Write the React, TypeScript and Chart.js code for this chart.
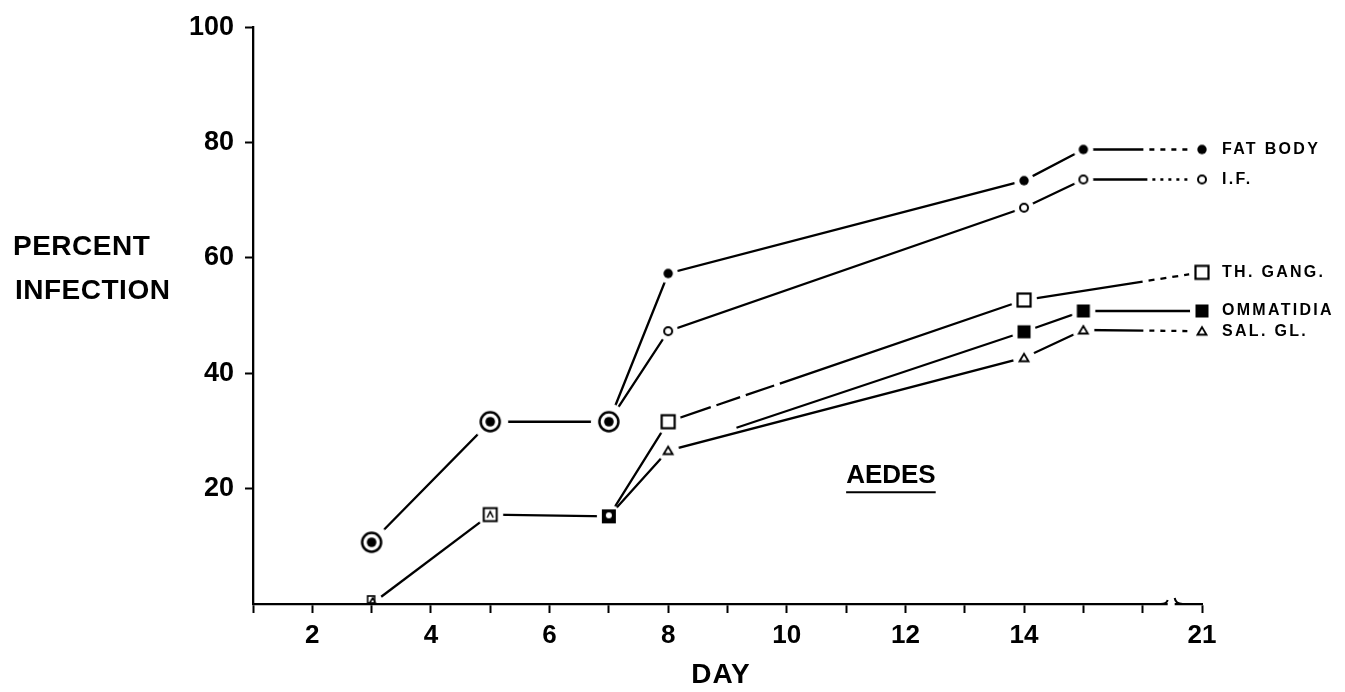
import React, { useEffect, useRef } from 'react';
import { Chart, registerables } from 'chart.js';

Chart.register(...registerables);

// ---- data ----
const DAYS = [3, 5, 7, 8, 14, 15, 21];
const X_TICK_DAYS = [2, 4, 6, 8, 10, 12, 14, 21];
const Y_TICK_VALUES = [20, 40, 60, 80, 100];
const FAT_BODY = [10.7, 31.6, 31.6, 57.3, 73.4, 78.8, 78.8];
const INF_FLUID = [10.7, 31.6, 31.6, 47.3, 68.7, 73.6, 73.6];
const TH_GANG = [0, 15.5, 15.2, 31.6, 52.7, null, 57.5];
const OMMATIDIA = [0, 15.5, 15.2, 26.6, 47.2, 50.8, 50.8];
const SAL_GL = [0, 15.5, 15.2, 26.6, 42.7, 47.5, 47.3];
const SERIES_LABELS = ['FAT BODY', 'I.F.', 'TH. GANG.', 'OMMATIDIA', 'SAL. GL.'];
const Y_TITLE = ['PERCENT', 'INFECTION'];
const X_TITLE = 'DAY';
const PANEL_LABEL = 'AEDES';

// broken day axis: days 17..20 are cut out, 21 sits one unit after 16
const BREAK_AFTER = 16;
const BREAK_DAY = 21;
const toPos = (d: number) => (d > BREAK_AFTER ? BREAK_AFTER + (d - BREAK_DAY) + 1 : d);
const fromPos = (p: number) => (p > BREAK_AFTER ? BREAK_DAY + p - BREAK_AFTER - 1 : p);

const FONT = '"Liberation Sans", Arial, sans-serif';

const pts = (arr: (number | null)[]) => DAYS.map((d, i) => ({ x: toPos(d), y: arr[i] }));

function mk(halo: number, draw: (g: CanvasRenderingContext2D) => void) {
  const s = Math.ceil(Math.max(halo, 10) * 2) + 2;
  const c = document.createElement('canvas');
  c.width = s;
  c.height = s;
  const g = c.getContext('2d')!;
  g.translate(s / 2, s / 2);
  if (halo > 0) {
    g.fillStyle = '#fff';
    g.beginPath();
    g.arc(0, 0, halo, 0, Math.PI * 2);
    g.fill();
  }
  g.strokeStyle = '#000';
  g.fillStyle = '#000';
  draw(g);
  return c;
}

function makeMarkers() {
  const dot = mk(10, (g) => { g.beginPath(); g.arc(0, 0, 4.7, 0, Math.PI * 2); g.fill(); });
  const ring = mk(10, (g) => { g.lineWidth = 2; g.beginPath(); g.arc(0, 0, 4, 0, Math.PI * 2); g.stroke(); });
  const bigRing = mk(18, (g) => {
    g.lineWidth = 2.5; g.beginPath(); g.arc(0, 0, 9.5, 0, Math.PI * 2); g.stroke();
    g.beginPath(); g.arc(0, 0, 4.8, 0, Math.PI * 2); g.fill();
  });
  const openSq = mk(13, (g) => { g.lineWidth = 2.2; g.strokeRect(-6.5, -6.5, 13, 13); });
  const filledSq = mk(12, (g) => { g.fillRect(-6.5, -6.5, 13, 13); });
  const tri = mk(11, (g) => {
    g.lineWidth = 1.8; g.beginPath(); g.moveTo(-4.5, 3.5); g.lineTo(0, -4); g.lineTo(4.5, 3.5); g.closePath(); g.stroke();
  });
  const day3 = mk(0, (g) => {
    g.lineWidth = 1.6; g.strokeRect(-4, -8, 7, 7);
    g.beginPath(); g.moveTo(-2, -1); g.lineTo(1, -6); g.lineTo(4, -1); g.stroke();
  });
  const day5 = mk(13, (g) => {
    g.lineWidth = 2; g.strokeRect(-6.5, -6.5, 13, 13);
    g.lineWidth = 1.5; g.beginPath(); g.moveTo(-3, 3); g.lineTo(0, -3); g.lineTo(3, 3); g.stroke();
  });
  const day7 = mk(12, (g) => {
    g.fillRect(-7, -7, 14, 14);
    g.fillStyle = '#fff'; g.beginPath(); g.arc(0, -1, 3, 0, Math.PI * 2); g.fill();
  });
  return { dot, ring, bigRing, openSq, filledSq, tri, day3, day5, day7 };
}

const TRANSPARENT = 'rgba(0,0,0,0)';

function lineDs(label: string, arr: (number | null)[], dashes: Record<number, number[]>, hidden: number[]) {
  return {
    label,
    data: pts(arr),
    showLine: true,
    pointRadius: 0,
    borderColor: '#000',
    borderWidth: 2.3,
    spanGaps: true,
    order: 1,
    clip: false,
    segment: {
      borderDash: (c: any) => dashes[c.p0DataIndex],
      borderColor: (c: any) => (hidden.includes(c.p0DataIndex) ? TRANSPARENT : undefined),
    },
  };
}

function markerDs(label: string, arr: (number | null)[], styles: any[], radii: number[]) {
  return {
    label: label + ' markers',
    data: pts(arr),
    showLine: false,
    pointStyle: styles,
    pointRadius: radii,
    pointBorderWidth: 0,
    order: 0,
    clip: false,
  };
}

const annotPlugin = {
  id: 'annot',
  afterDraw(chart: any) {
    const { ctx } = chart;
    const x = chart.scales.x;
    const y = chart.scales.y;
    ctx.save();

    // axis break near 21
    const x16 = x.getPixelForValue(BREAK_AFTER);
    const yb = y.getPixelForValue(0);
    ctx.fillStyle = '#fff';
    ctx.fillRect(x16 + 25, yb - 5, 7, 8);
    ctx.strokeStyle = '#000';
    ctx.lineWidth = 2;
    ctx.beginPath();
    ctx.moveTo(x16 + 18, yb);
    ctx.quadraticCurveTo(x16 + 24, yb, x16 + 25, yb - 4);
    ctx.stroke();
    ctx.beginPath();
    ctx.moveTo(x16 + 32, yb - 6);
    ctx.quadraticCurveTo(x16 + 33, yb, x16 + 40, yb);
    ctx.stroke();

    ctx.fillStyle = '#000';
    ctx.textBaseline = 'middle';

    // series labels at the right
    ctx.font = `bold 16px ${FONT}`;
    ctx.letterSpacing = '2.3px';
    ctx.textAlign = 'left';
    const last = DAYS.length - 1;
    const lx = x.getPixelForValue(toPos(DAYS[last])) + 20;
    [FAT_BODY, INF_FLUID, TH_GANG, OMMATIDIA, SAL_GL].forEach((arr, i) => {
      ctx.fillText(SERIES_LABELS[i], lx, y.getPixelForValue(arr[last] as number));
    });

    // y title
    ctx.font = `bold 28px ${FONT}`;
    ctx.letterSpacing = '0.5px';
    ctx.fillText(Y_TITLE[0], 13, 247);
    ctx.fillText(Y_TITLE[1], 15, 291);

    // x title
    ctx.textAlign = 'center';
    ctx.letterSpacing = '1px';
    ctx.fillText(X_TITLE, 721, 675);

    // panel label
    ctx.font = `bold 26px ${FONT}`;
    ctx.letterSpacing = '0px';
    ctx.textAlign = 'left';
    const ax = x.getPixelForValue(11.0);
    const ay = y.getPixelForValue(22.3);
    ctx.fillText(PANEL_LABEL, ax, ay);
    const w = ctx.measureText(PANEL_LABEL).width;
    ctx.lineWidth = 2;
    ctx.beginPath();
    ctx.moveTo(ax, ay + 17);
    ctx.lineTo(ax + w, ay + 17);
    ctx.stroke();

    ctx.restore();
  },
};

export default function App() {
  const ref = useRef<HTMLCanvasElement>(null);
  useEffect(() => {
    const m = makeMarkers();
    const endDash = [60, 6, 5, 6, 5, 6, 5, 6, 5, 6, 5, 500];
    const dotDash = [64, 5, 3, 5, 3, 5, 3, 5, 3, 5, 3, 500];
    const thEnd = [120, 6, 6, 6, 6, 6, 6, 6, 6, 500];
    const datasets: any[] = [
      markerDs('FAT BODY', FAT_BODY, DAYS.map(() => m.dot), [0, 0, 0, 5, 5, 5, 5]),
      markerDs('I.F.', INF_FLUID, [m.bigRing, m.bigRing, m.bigRing, m.ring, m.ring, m.ring, m.ring], [5, 5, 5, 5, 5, 5, 5]),
      markerDs('TH. GANG.', TH_GANG, [m.day3, m.day5, m.day7, m.openSq, m.openSq, m.openSq, m.openSq], [5, 5, 5, 5, 5, 0, 5]),
      markerDs('OMMATIDIA', OMMATIDIA, DAYS.map(() => m.filledSq), [0, 0, 0, 0, 5, 5, 5]),
      markerDs('SAL. GL.', SAL_GL, DAYS.map(() => m.tri), [0, 0, 0, 5, 5, 5, 5]),
      lineDs('FAT BODY', FAT_BODY, { 5: endDash }, []),
      lineDs('I.F.', INF_FLUID, { 5: dotDash }, [0, 1]),
      lineDs('TH. GANG.', TH_GANG, { 0: [0, 12, 2000], 3: [45, 6, 25, 6, 30, 6, 2000], 4: thEnd, 5: thEnd }, []),
      lineDs('OMMATIDIA', OMMATIDIA, { 3: [0, 72, 2000] }, [0, 1, 2]),
      lineDs('SAL. GL.', SAL_GL, { 5: endDash }, [0, 1]),
    ];
    const tickFont = { family: FONT, weight: 'bold' as const, size: 26 };
    const chart = new Chart(ref.current!, {
      type: 'line',
      data: { datasets },
      options: {
        animation: false,
        responsive: false,
        layout: { padding: { top: 25, right: 143, bottom: 0, left: 0 } },
        plugins: { legend: { display: false }, tooltip: { enabled: false } },
        scales: {
          x: {
            type: 'linear',
            min: 1,
            max: toPos(BREAK_DAY),
            afterFit: (s: any) => { s.height = 88; },
            ticks: {
              stepSize: 1,
              autoSkip: false,
              maxRotation: 0,
              color: '#000',
              padding: 7,
              font: tickFont,
              callback: (v: any) => {
                const d = fromPos(Number(v));
                return X_TICK_DAYS.includes(d) ? String(d) : '';
              },
            },
            grid: { drawOnChartArea: false, drawTicks: true, tickLength: 9, tickWidth: 2, tickColor: '#000' },
            border: { display: true, color: '#000', width: 2.3 },
          },
          y: {
            min: 0,
            max: 100,
            afterFit: (s: any) => { s.width = 253; },
            ticks: {
              stepSize: 20,
              color: '#000',
              padding: 11,
              font: { ...tickFont, size: 27 },
              callback: (v: any) => (Y_TICK_VALUES.includes(Number(v)) ? String(v) : ''),
            },
            grid: {
              drawOnChartArea: false,
              drawTicks: true,
              tickLength: 8,
              tickWidth: 2,
              tickColor: (c: any) => (c.tick && c.tick.value === 0 ? TRANSPARENT : '#000'),
            },
            border: { display: true, color: '#000', width: 2.3 },
          },
        },
      },
      plugins: [annotPlugin],
    } as any);
    return () => chart.destroy();
  }, []);
  return (
    <div style={{ position: 'fixed', left: 0, top: 0, width: 1345, height: 692, background: '#fff' }}>
      <canvas ref={ref} width={1345} height={692} style={{ display: 'block' }} />
    </div>
  );
}
